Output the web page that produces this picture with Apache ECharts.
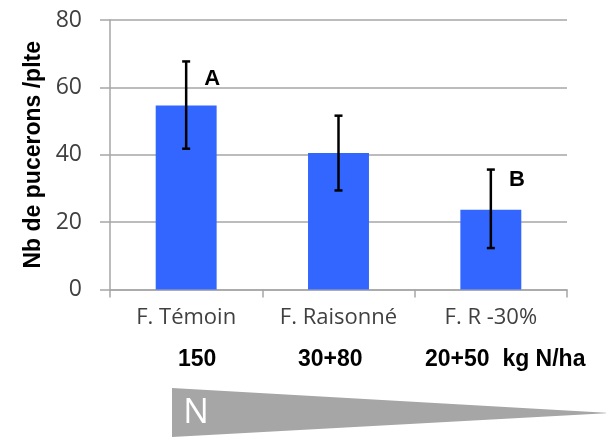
<!DOCTYPE html>
<html>
<head>
<meta charset="utf-8">
<script src="https://cdn.jsdelivr.net/npm/echarts@6/dist/echarts.min.js"></script>
<style>html,body{margin:0;padding:0;background:#fff}#c{width:606px;height:440px}</style>
</head>
<body>
<div id="c"></div>
<script>
var categories = ['F. Témoin', 'F. Raisonné', 'F. R -30%'];
var means = [54.6, 40.5, 23.7];
var errLow = [41.8, 29.4, 12.3];
var errHigh = [67.7, 51.6, 35.6];
var letters = ['A', '', 'B'];
var letterValues = [62.6, null, 32.5];
var yTicks = [0, 20, 40, 60, 80];
var nRates = ['150', '30+80', '20+50  kg N/ha'];
var yTitle = 'Nb de pucerons /plte';

var chart = echarts.init(document.getElementById('c'), null, {renderer: 'canvas'});
var option = {
  animation: false,
  grid: {left: 110, right: 39, top: 20, bottom: 150.5},
  xAxis: {
    type: 'category',
    data: categories,
    axisLine: {lineStyle: {color: '#a6a6a6', width: 1.5}},
    axisTick: {show: true, length: 8, lineStyle: {color: '#a6a6a6', width: 1.5}},
    axisLabel: {interval: 0, fontFamily: 'Open Sans', fontSize: 22, color: '#404040', margin: 17}
  },
  yAxis: {
    type: 'value', min: 0, max: 80, interval: 20,
    name: yTitle, nameLocation: 'middle', nameGap: 63,
    nameTextStyle: {fontFamily: 'Liberation Sans', fontWeight: 'bold', fontSize: 23, color: '#000'},
    axisLine: {show: true, lineStyle: {color: '#a6a6a6', width: 1.5}},
    axisTick: {show: true, length: 10, lineStyle: {color: '#a6a6a6', width: 1.5}},
    splitLine: {lineStyle: {color: '#a6a6a6', width: 1.5}},
    axisLabel: {fontFamily: 'Open Sans', fontSize: 23, color: '#404040', margin: 28,
      formatter: function (v) { return yTicks.indexOf(v) >= 0 ? String(v) : ''; }}
  },
  series: [
    {
      type: 'bar', data: means, barWidth: '40%',
      itemStyle: {color: '#3366ff'}
    },
    {
      type: 'custom',
      data: categories.map(function (c, i) { return [i, errLow[i], errHigh[i]]; }),
      renderItem: function (params, api) {
        var lo = api.coord([api.value(0), api.value(1)]);
        var hi = api.coord([api.value(0), api.value(2)]);
        var w = 4;
        var st = {stroke: '#000', lineWidth: 2.5};
        return {type: 'group', children: [
          {type: 'line', shape: {x1: hi[0], y1: hi[1], x2: lo[0], y2: lo[1]}, style: st},
          {type: 'line', shape: {x1: hi[0] - w, y1: hi[1], x2: hi[0] + w, y2: hi[1]}, style: st},
          {type: 'line', shape: {x1: lo[0] - w, y1: lo[1], x2: lo[0] + w, y2: lo[1]}, style: st}
        ]};
      },
      z: 5
    },
    {
      type: 'custom',
      data: categories.map(function (c, i) { return [i, letterValues[i] == null ? 0 : letterValues[i], letters[i]]; }),
      renderItem: function (params, api) {
        var i = params.dataIndex;
        if (!letters[i]) return null;
        var p = api.coord([i, letterValues[i]]);
        return {type: 'text', x: p[0] + 26, y: p[1], style: {
          text: letters[i], fontFamily: 'Liberation Sans', fontWeight: 'bold', fontSize: 22,
          fill: '#000', align: 'center', verticalAlign: 'middle'}};
      },
      z: 6
    }
  ],
  graphic: [
    {type: 'polygon', shape: {points: [[172, 388], [172, 437], [610, 413]]}, style: {fill: '#a6a6a6'}},
    {type: 'text', x: 196, y: 413, style: {text: 'N', fontFamily: 'Open Sans', fontSize: 34, fill: '#fff', align: 'center', verticalAlign: 'middle'}},
    {type: 'text', x: 178, y: 360, style: {text: nRates[0], fontFamily: 'Liberation Sans', fontWeight: 'bold', fontSize: 23, fill: '#000', verticalAlign: 'middle'}},
    {type: 'text', x: 298, y: 360, style: {text: nRates[1], fontFamily: 'Liberation Sans', fontWeight: 'bold', fontSize: 23, fill: '#000', verticalAlign: 'middle'}},
    {type: 'text', x: 425, y: 360, style: {text: nRates[2], fontFamily: 'Liberation Sans', fontWeight: 'bold', fontSize: 23, fill: '#000', verticalAlign: 'middle'}}
  ]
};
chart.setOption(option);
</script>
</body>
</html>
